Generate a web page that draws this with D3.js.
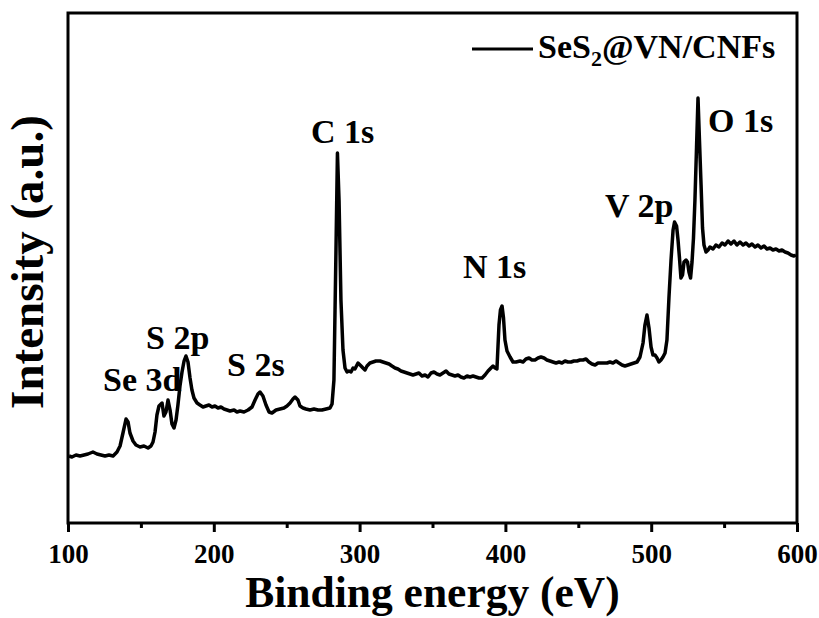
<!DOCTYPE html>
<html>
<head>
<meta charset="utf-8">
<script src="https://cdn.jsdelivr.net/npm/d3@7"></script>
<style>
  html, body { margin: 0; padding: 0; background: #fff; }
  svg { display: block; }
  text { font-family: "Liberation Serif", "Times New Roman", serif; font-weight: bold; fill: #000; }
</style>
</head>
<body>
<svg id="chart" width="819" height="618"></svg>
<script>
// XPS survey spectrum of SeS2@VN/CNFs
const energy = [
  100.7, 102.7, 105.5, 108.2, 111.0, 113.7, 117.1, 119.9, 122.6, 125.4,
  128.1, 130.9, 133.6, 135.7, 137.7, 139.8, 141.2, 142.5, 144.6, 146.6,
  149.4, 152.1, 154.9, 156.9, 158.3, 159.7, 161.0, 162.4, 163.8, 164.5,
  165.8, 167.2, 168.6, 170.0, 171.3, 172.7, 174.1, 175.4, 176.8, 178.2,
  179.6, 180.9, 182.3, 183.7, 185.0, 186.4, 188.5, 190.5, 192.6, 194.6,
  196.7, 198.8, 200.8, 202.9, 204.9, 207.0, 209.1, 211.1, 213.9, 215.9,
  218.0, 220.7, 223.5, 226.2, 228.3, 230.3, 231.7, 233.7, 235.8, 237.9,
  239.9, 242.7, 245.4, 248.1, 250.2, 252.3, 254.3, 255.7, 257.7, 259.1,
  261.2, 263.2, 266.0, 268.7, 271.5, 274.2, 277.0, 279.7, 281.1, 282.4,
  283.8, 284.8, 285.9, 287.2, 288.6, 290.0, 291.4, 292.7, 294.1, 295.5,
  296.8, 298.9, 301.0, 302.3, 303.7, 305.1, 307.1, 309.2, 311.2, 314.0,
  316.0, 318.1, 320.2, 322.2, 324.3, 326.3, 328.4, 330.5, 332.5, 334.6,
  336.6, 338.7, 340.7, 342.8, 344.9, 346.9, 349.0, 351.0, 353.1, 355.1,
  357.2, 359.3, 361.3, 363.4, 365.4, 367.5, 369.5, 371.6, 373.7, 375.7,
  377.8, 379.8, 381.9, 384.0, 386.0, 388.1, 390.1, 391.5, 392.9, 394.2,
  395.6, 396.6, 397.7, 398.7, 399.7, 401.1, 403.2, 405.2, 407.3, 410.0,
  412.1, 414.1, 416.2, 418.2, 420.3, 422.4, 424.4, 426.5, 428.5, 430.6,
  432.6, 434.7, 436.8, 438.8, 440.9, 442.9, 445.0, 447.0, 449.1, 451.2,
  453.2, 455.3, 457.3, 459.4, 461.5, 463.5, 465.6, 467.6, 469.7, 471.7,
  473.8, 475.9, 477.9, 480.0, 482.0, 484.1, 486.1, 488.2, 490.3, 492.3,
  494.4, 495.7, 497.1, 498.5, 499.9, 501.2, 502.6, 504.0, 505.3, 506.7,
  508.1, 509.5, 510.8, 512.2, 513.6, 515.0, 516.0, 517.4, 518.4, 519.4,
  520.4, 521.5, 522.5, 523.9, 524.9, 525.9, 527.0, 528.0, 529.0, 530.0,
  531.1, 532.1, 533.1, 534.2, 535.2, 536.2, 537.6, 539.0, 540.3, 542.4,
  544.4, 546.5, 548.6, 550.6, 552.7, 554.7, 556.8, 558.8, 560.9, 563.0,
  565.0, 567.1, 569.1, 571.2, 573.2, 575.3, 577.4, 579.4, 581.5, 583.5,
  585.6, 587.7, 589.7, 591.8, 593.8, 595.9, 597.9, 599.3
];

const intensity = [
  6.7, 6.6, 6.8, 6.7, 6.8, 6.9, 7.1, 6.9, 6.8, 6.7,
  6.8, 6.7, 7.1, 7.7, 9.0, 10.4, 10.1, 9.0, 8.2, 7.8,
  7.6, 7.7, 7.5, 7.7, 8.1, 9.1, 10.8, 11.7, 11.9, 12.0,
  10.7, 11.1, 12.3, 11.3, 9.9, 9.5, 10.3, 11.8, 13.7, 15.1,
  16.2, 16.7, 16.1, 14.5, 13.3, 12.5, 12.0, 11.8, 11.6, 11.7,
  11.8, 11.6, 11.7, 11.5, 11.6, 11.4, 11.3, 11.2, 11.3, 11.1,
  11.2, 11.1, 11.3, 11.6, 12.3, 12.9, 13.1, 12.7, 11.8, 11.1,
  11.0, 11.3, 11.4, 11.5, 11.7, 12.0, 12.4, 12.6, 12.3, 11.7,
  11.5, 11.4, 11.3, 11.4, 11.3, 11.3, 11.4, 11.5, 11.9, 14.3,
  27.3, 37.0, 32.3, 22.3, 17.3, 15.5, 15.1, 15.2, 15.1, 15.5,
  15.4, 16.0, 15.7, 15.5, 15.3, 15.7, 16.0, 16.1, 16.2, 16.2,
  16.1, 16.0, 15.9, 15.7, 15.5, 15.4, 15.2, 15.1, 15.0, 14.9,
  14.8, 14.9, 15.0, 14.7, 14.8, 14.6, 15.0, 15.1, 14.9, 14.8,
  15.0, 15.2, 14.9, 14.8, 14.7, 14.8, 14.6, 14.5, 14.7, 14.6,
  14.7, 14.6, 14.5, 14.5, 14.8, 15.2, 15.5, 15.7, 15.5, 15.4,
  19.8, 21.3, 21.7, 20.5, 18.3, 17.2, 16.6, 16.1, 16.1, 16.2,
  16.1, 16.4, 16.5, 16.3, 16.3, 16.5, 16.6, 16.5, 16.3, 16.2,
  16.1, 16.0, 16.1, 16.0, 16.2, 16.1, 16.1, 16.2, 16.2, 16.3,
  16.3, 16.4, 16.1, 15.9, 15.8, 16.0, 16.0, 16.0, 16.0, 16.1,
  16.0, 16.2, 16.0, 15.8, 15.7, 15.8, 15.9, 16.0, 16.1, 16.6,
  18.0, 19.8, 20.8, 19.5, 17.6, 16.8, 16.8, 16.5, 16.1, 16.3,
  16.6, 17.0, 18.3, 22.6, 26.3, 29.3, 30.1, 29.7, 28.3, 26.5,
  24.5, 24.8, 26.1, 26.3, 26.1, 25.1, 24.5, 26.1, 28.5, 32.3,
  37.6, 42.5, 38.3, 33.8, 29.5, 27.8, 27.1, 27.3, 27.6, 27.4,
  27.8, 27.6, 28.0, 27.8, 28.2, 27.9, 28.2, 27.8, 28.1, 27.8,
  28.0, 27.7, 27.9, 27.6, 27.8, 27.5, 27.7, 27.4, 27.5, 27.3,
  27.4, 27.2, 27.3, 27.1, 27.0, 26.8, 26.7, 26.8
];

const xTickValues = [100, 200, 300, 400, 500, 600];
const xMinorTicks = [150, 250, 350, 450, 550];
const seriesName = ["SeS", "2", "@VN/CNFs"];
const peakNames = ["Se 3d", "S 2p", "S 2s", "C 1s", "N 1s", "V 2p", "O 1s"];
// label anchors in (binding energy, intensity) units: left edge / baseline
const peakAnchorE = [124.0, 153.5, 209.1, 266.7, 370.9, 468.3, 539.0];
const peakAnchorI = [13.2, 17.4, 14.7, 38.0, 24.5, 30.6, 39.1];

const plot = { left: 68, right: 797, top: 13, bottom: 523 };

const svg = d3.select("#chart");

const x = d3.scaleLinear().domain([100, 600]).range([plot.left, plot.right]);
const y = d3.scaleLinear().domain([0, 51]).range([plot.bottom, plot.top]);

const points = energy.map((e, i) => [e, intensity[i]]);

// spectrum trace
svg.append("path")
  .datum(points)
  .attr("fill", "none")
  .attr("stroke", "#000")
  .attr("stroke-width", 3.5)
  .attr("stroke-linejoin", "round")
  .attr("d", d3.line().x(d => x(d[0])).y(d => y(d[1])));

// minor ticks on bottom axis (no labels)
const minorAxis = svg.append("g")
  .attr("transform", `translate(0,${plot.bottom})`)
  .call(d3.axisBottom(x).tickValues(xMinorTicks).tickSize(5));
minorAxis.select(".domain").remove();
minorAxis.selectAll("text").remove();
minorAxis.selectAll("line").attr("stroke", "#000").attr("stroke-width", 3);

// major ticks + labels
const majorAxis = svg.append("g")
  .attr("transform", `translate(0,${plot.bottom})`)
  .call(d3.axisBottom(x).tickValues(xTickValues).tickSize(9).tickPadding(12).tickFormat(d3.format("d")));
majorAxis.select(".domain").remove();
majorAxis.selectAll("line").attr("stroke", "#000").attr("stroke-width", 3);
majorAxis.selectAll("text")
  .attr("font-family", "'Liberation Serif', 'Times New Roman', serif")
  .attr("font-weight", "bold")
  .attr("font-size", 27)
  .attr("fill", "#000");

// frame
svg.append("rect")
  .attr("x", plot.left)
  .attr("y", plot.top)
  .attr("width", plot.right - plot.left)
  .attr("height", plot.bottom - plot.top)
  .attr("fill", "none")
  .attr("stroke", "#000")
  .attr("stroke-width", 3);

// axis titles
svg.append("text")
  .attr("x", (plot.left + plot.right) / 2)
  .attr("y", 607)
  .attr("text-anchor", "middle")
  .attr("font-size", 43.5)
  .text("Binding energy (eV)");

svg.append("text")
  .attr("transform", `translate(43,262) rotate(-90)`)
  .attr("text-anchor", "middle")
  .attr("font-size", 47)
  .text("Intensity (a.u.)");

// peak labels
svg.append("g").selectAll("text")
  .data(peakNames)
  .join("text")
  .attr("x", (d, i) => x(peakAnchorE[i]))
  .attr("y", (d, i) => y(peakAnchorI[i]))
  .attr("font-size", 34)
  .text(d => d);

// legend
const legend = svg.append("g");
legend.append("line")
  .attr("x1", 472).attr("x2", 533)
  .attr("y1", 49).attr("y2", 49)
  .attr("stroke", "#000").attr("stroke-width", 3);
const lt = legend.append("text")
  .attr("x", 538)
  .attr("y", 58)
  .attr("font-size", 34);
lt.append("tspan").text(seriesName[0]);
lt.append("tspan").attr("font-size", 22).attr("dy", 8).text(seriesName[1]);
lt.append("tspan").attr("dy", -8).text(seriesName[2]);
</script>
</body>
</html>
